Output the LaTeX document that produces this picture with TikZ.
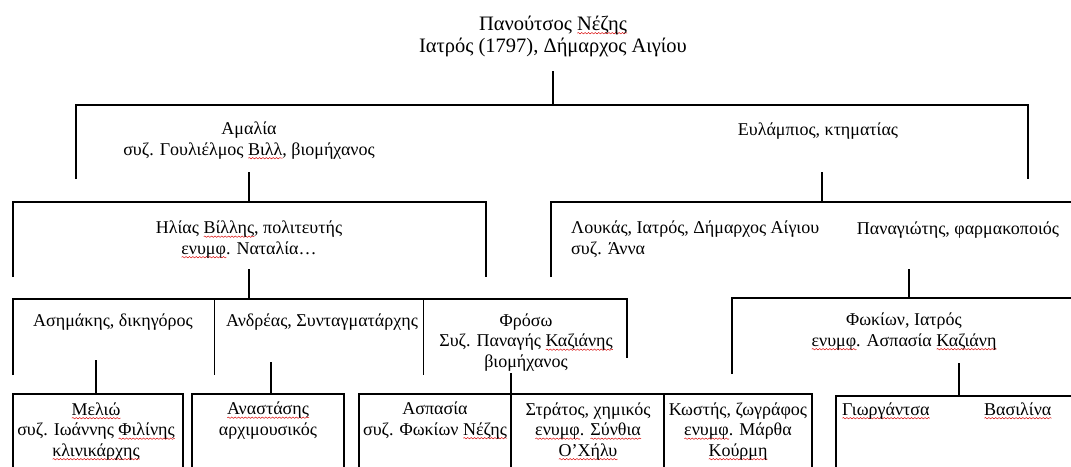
\documentclass[tikz,border=0pt]{standalone}
\usepackage{fontspec}
\setmainfont{Liberation Serif}
\usetikzlibrary{decorations.pathmorphing}
\newlength\wavelen
\newcommand{\redwavy}[1]{\settowidth{\wavelen}{#1}\rlap{\tikz[baseline=0pt]\draw[red!85!black, line width=0.45pt, decorate, decoration={snake, amplitude=0.7pt, segment length=3.4pt}] (0pt,-3.2pt) -- (\wavelen,-3.2pt);}#1}

\begin{document}
\begin{tikzpicture}[x=1pt, y=-1pt,
  bar/.style={line width=1.3pt},
  sep/.style={line width=0.8pt},
  txt/.style={anchor=base, inner sep=0pt, align=center, font=\fontsize{18}{20.5}\selectfont},
  head/.style={txt, font=\fontsize{20.5}{22}\selectfont}]
\useasboundingbox (0,0) rectangle (1071,466);
% anchor base = baseline of the last line
\node[head] (P) at (553,52) {Πανούτσος \redwavy{Νέζης}\\Ιατρός (1797), Δήμαρχος Αιγίου};
\node[txt] (A) at (249,155) {Αμαλία\\συζ. Γουλιέλμος \redwavy{Βιλλ}, βιομήχανος};
\node[txt] (E) at (818,135) {Ευλάμπιος, κτηματίας};
\node[txt] (H) at (249,254) {Ηλίας \redwavy{Βίλλης}, πολιτευτής\\\redwavy{ενυμφ}. Ναταλία…};
\node[txt, anchor=base west, align=left] (L) at (571,254) {Λουκάς, Ιατρός, Δήμαρχος Αίγιου\\συζ. Άννα};
\node[txt] (PN) at (958,234) {Παναγιώτης, φαρμακοποιός};
\node[txt] (AS) at (113,326) {Ασημάκης, δικηγόρος};
\node[txt] (AN) at (322,326) {Ανδρέας, Συνταγματάρχης};
\node[txt] (F) at (526,367) {Φρόσω\\Συζ. Παναγής \redwavy{Καζιάνης}\\βιομήχανος};
\node[txt] (FK) at (904,346) {Φωκίων, Ιατρός\\\redwavy{ενυμφ}. Ασπασία \redwavy{Καζιάνη}};
\node[txt] (M) at (96,456) {\redwavy{Μελιώ}\\συζ. Ιωάννης \redwavy{Φιλίνης}\\\redwavy{κλινικάρχης}};
\node[txt] (N) at (268,435) {\redwavy{Αναστάσης}\\αρχιμουσικός};
\node[txt] (AP) at (435,435) {Ασπασία\\συζ. Φωκίων \redwavy{Νέζης}};
\node[txt] (ST) at (588,456) {Στράτος, χημικός\\\redwavy{ενυμφ}. \redwavy{Σύνθια}\\\redwavy{Ο’Χήλυ}};
\node[txt] (K) at (738,456) {Κωστής, ζωγράφος\\\redwavy{ενυμφ}. Μάρθα\\\redwavy{Κούρμη}};
\node[txt, anchor=base west] (G) at (842,415) {\redwavy{Γιωργάντσα}};
\node[txt, anchor=base west] (V) at (984,415) {\redwavy{Βασιλίνα}};
% bracket ends
\coordinate (p) at (553,71);   \coordinate (pb) at (553,105);
\coordinate (la) at (76,179);  \coordinate (ra) at (1028,179);
\coordinate (a) at (249,172);  \coordinate (ab) at (249,202);
\coordinate (hl) at (13,277);  \coordinate (hr) at (486,277);
\coordinate (e) at (822,172);  \coordinate (eb) at (822,202);
\coordinate (ll) at (551,277); \coordinate (lr) at (1072,202);
\coordinate (h) at (249,269);  \coordinate (hb) at (249,299);
\coordinate (r3l) at (13,375); \coordinate (r3r) at (627,358);
\coordinate (d1) at (214,299); \coordinate (d1b) at (214,375);
\coordinate (d2) at (423,299); \coordinate (d2b) at (423,375);
\coordinate (as) at (96,360);  \coordinate (asb) at (96,394);
\coordinate (ml) at (13,467);  \coordinate (mr) at (183,467);
\coordinate (an) at (271,362); \coordinate (anb) at (271,394);
\coordinate (nl) at (192,467); \coordinate (nr) at (344,467);
\coordinate (f) at (511,373);  \coordinate (fb) at (511,467);
\coordinate (bt) at (511,394); \coordinate (bl) at (359,467);
\coordinate (br) at (812,467);
\coordinate (k) at (664,394);  \coordinate (kb) at (664,467);
\coordinate (pn) at (909,269); \coordinate (pnb) at (909,298);
\coordinate (fl) at (732,374); \coordinate (fr) at (1072,298);
\coordinate (fk) at (959,363); \coordinate (fkb) at (959,396);
\coordinate (gl) at (836,467); \coordinate (gr) at (1072,396);
\draw[bar] (p) -- (pb);
\draw[bar] (la) |- (pb) -| (ra);
\draw[bar] (a) -- (ab);
\draw[bar] (hl) |- (ab) -| (hr);
\draw[bar] (e) -- (eb);
\draw[bar] (ll) |- (eb) -- (lr);
\draw[bar] (h) -- (hb);
\draw[bar] (r3l) |- (hb) -| (r3r);
\draw[sep] (d1) -- (d1b);
\draw[sep] (d2) -- (d2b);
\draw[bar] (as) -- (asb);
\draw[bar] (ml) |- (asb) -| (mr);
\draw[bar] (an) -- (anb);
\draw[bar] (nl) |- (anb) -| (nr);
\draw[bar] (f) -- (fb);
\draw[bar] (bl) |- (bt) -| (br);
\draw[bar] (k) -- (kb);
\draw[bar] (pn) -- (pnb);
\draw[bar] (fl) |- (pnb) -- (fr);
\draw[bar] (fk) -- (fkb);
\draw[bar] (gl) |- (fkb) -- (gr);
\end{tikzpicture}
\end{document}
